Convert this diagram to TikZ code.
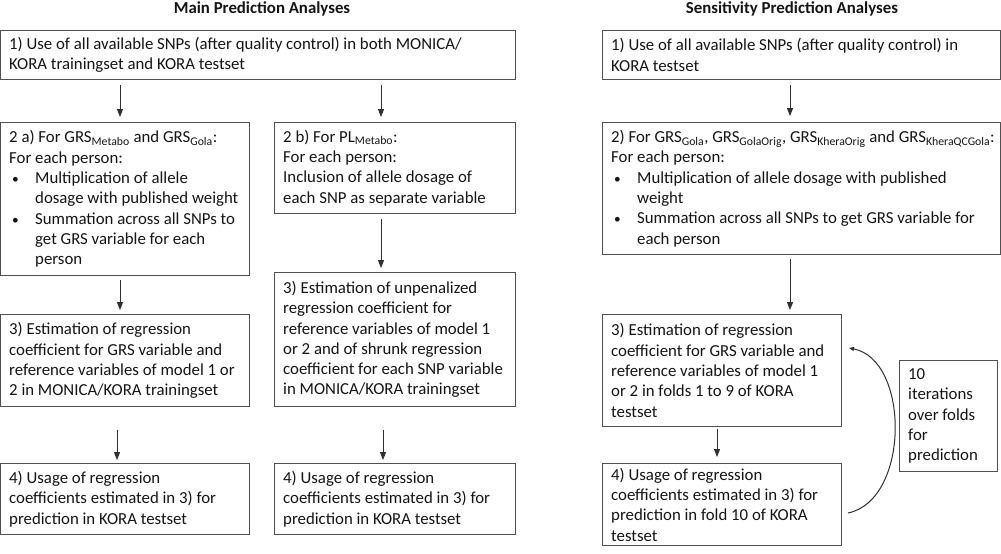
\documentclass[tikz,border=0pt]{standalone}
\usepackage{fontspec}
\setmainfont{Carlito}
\usetikzlibrary{calc,arrows.meta}
\definecolor{boxgray}{HTML}{505050}
\definecolor{arrc}{HTML}{303030}
\definecolor{textc}{HTML}{151515}
\tikzset{
  box/.style={draw=boxgray, line width=1pt, anchor=north west, inner sep=0pt, rectangle},
  txt/.style={anchor=west, align=left, inner sep=0pt, font=\fontsize{16.8}{20.3}\selectfont, text=textc},
  arr/.style={draw=arrc, line width=1pt, -{Triangle[length=8pt,width=6pt]}},
  ttl/.style={anchor=base, inner sep=0pt, text=textc, font=\bfseries\fontsize{16.8}{19}\selectfont}
}
\newcommand\mkbox[6]{%
  \node[box, minimum width=#4pt, minimum height=#5pt] (#1) at (#2,#3) {};
  \node[txt] (#1t) at ($(#1.west)+(9,0)$) {#6};
}
\newcommand\bul{\makebox[26pt][l]{\hspace{3pt}\scalebox{0.8}{•}}}
\newcommand\ind{\hspace*{26pt}}
\begin{document}
\begin{tikzpicture}[x=1pt,y=-1pt]
\useasboundingbox (0,0) rectangle (1001,554);
\fill[white] (0,0) rectangle (1001,554);
\node[ttl] (tm) at (262,13) {Main Prediction Analyses};
\node[ttl] (ts) at (792,13) {Sensitivity Prediction Analyses};

\mkbox{m1}{0}{30}{515}{49}{1) Use of all available SNPs (after quality control) in both MONICA/\\KORA trainingset and KORA testset}
\mkbox{s1}{602}{30}{398}{49}{1) Use of all available SNPs (after quality control) in\\KORA testset}
\mkbox{m2a}{0}{122}{249}{153}{2 a) For GRS\textsubscript{Metabo} and GRS\textsubscript{Gola}:\\For each person:\\\bul Multiplication of allele\\\ind dosage with published weight\\\bul Summation across all SNPs to\\\ind get GRS variable for each\\\ind person}
\mkbox{m2b}{274}{122}{241}{91}{2 b) For PL\textsubscript{Metabo}:\\For each person:\\Inclusion of allele dosage of\\each SNP as separate variable}
\mkbox{s2}{602}{122}{398}{132}{2) For GRS\textsubscript{Gola}, GRS\textsubscript{GolaOrig}, GRS\textsubscript{KheraOrig} and GRS\textsubscript{KheraQCGola}:\\For each person:\\\bul Multiplication of allele dosage with published\\\ind weight\\\bul Summation across all SNPs to get GRS variable for\\\ind each person}
\mkbox{m3a}{0}{314}{249}{92}{3) Estimation of regression\\coefficient for GRS variable and\\reference variables of model 1 or\\2 in MONICA/KORA trainingset}
\mkbox{m3b}{274}{272}{241}{134}{3) Estimation of unpenalized\\regression coefficient for\\reference variables of model 1\\or 2 and of shrunk regression\\coefficient for each SNP variable\\in MONICA/KORA trainingset}
\mkbox{s3}{602}{314}{239}{112}{3) Estimation of regression\\coefficient for GRS variable and\\reference variables of model 1\\or 2 in folds 1 to 9 of KORA\\testset}
\mkbox{m4a}{0}{463}{249}{71}{4) Usage of regression\\coefficients estimated in 3) for\\prediction in KORA testset}
\mkbox{m4b}{274}{463}{241}{71}{4) Usage of regression\\coefficients estimated in 3) for\\prediction in KORA testset}
\mkbox{s4}{602}{463}{239}{82}{4) Usage of regression\\coefficients estimated in 3) for\\prediction in fold 10 of KORA\\testset}
\mkbox{it}{899}{360}{98}{111}{10\\iterations\\over folds\\for\\prediction}

\draw[arr] ($(m1.south west)+(120,5)$) -- ($(m2a.north west)+(120,-5)$);
\draw[arr] ($(m1.south west)+(381,5)$) -- ($(m2b.north west)+(107,-5)$);
\draw[arr] ($(s1.south west)+(188,5)$) -- ($(s2.north west)+(188,-6)$);
\draw[arr] ($(m2a.south west)+(120,4)$) -- ($(m3a.north west)+(120,-4)$);
\draw[arr] ($(m2b.south west)+(107,5)$) -- ($(m3b.north west)+(107,-4)$);
\draw[arr] ($(m3a.south west)+(117,23)$) -- ($(m4a.north west)+(117,-3)$);
\draw[arr] ($(m3b.south west)+(109,23)$) -- ($(m4b.north west)+(109,-3)$);
\draw[arr] ($(s2.south west)+(188,4)$) -- ($(s3.north west)+(188,-4)$);
\draw[arr] ($(s3.south west)+(115,2)$) -- ($(s4.north west)+(115,-6)$);

\coordinate (cs) at ($(s4.north east)+(6,50)$);
\coordinate (ce) at ($(s3.north east)+(7,34)$);
\draw[draw=arrc, line width=1pt, -{Triangle[length=5pt,width=4pt]}] (cs) .. controls (910,500) and (910,360) .. (ce);
\end{tikzpicture}
\end{document}
